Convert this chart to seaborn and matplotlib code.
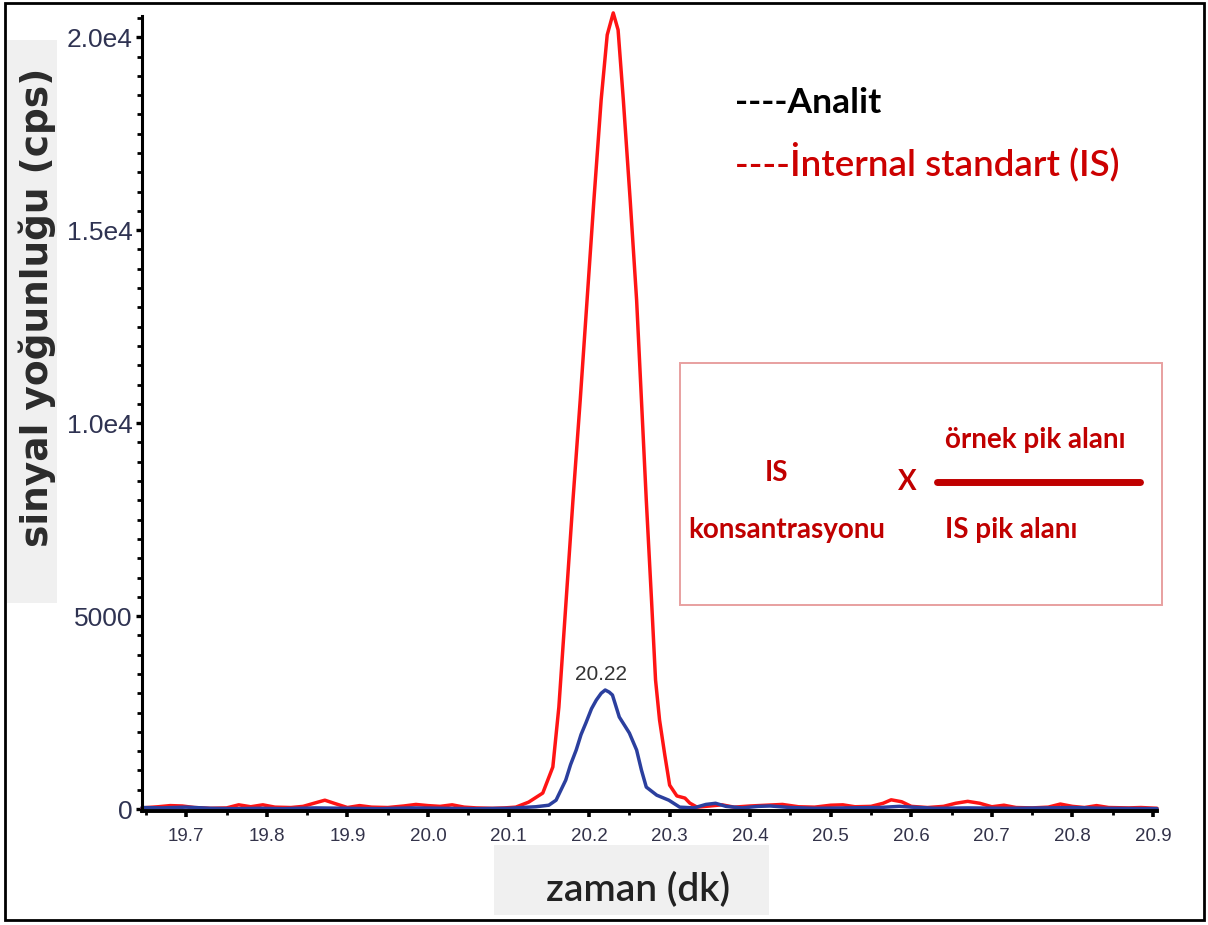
import matplotlib
matplotlib.use("Agg")
import matplotlib.pyplot as plt
from matplotlib import font_manager
from matplotlib.patches import Rectangle
from matplotlib.ticker import MultipleLocator, FixedLocator
import seaborn as sns
import pandas as pd

# Internal standard (IS) trace, retention time (min) vs. signal (cps)
is_time = [19.645, 19.665, 19.68, 19.695, 19.71, 19.73, 19.75, 19.765, 19.78, 19.795,
           19.81, 19.83, 19.845, 19.86, 19.872, 19.885, 19.90, 19.915, 19.93, 19.95,
           19.97, 19.985, 20.0, 20.015, 20.03, 20.045, 20.06, 20.08, 20.095, 20.109,
           20.125, 20.1425, 20.155, 20.1625, 20.169, 20.18, 20.189, 20.1975, 20.206, 20.215,
           20.2225, 20.23, 20.236, 20.2425, 20.251, 20.259, 20.265, 20.271, 20.2775, 20.2825,
           20.2875, 20.294, 20.30, 20.309, 20.319, 20.325, 20.334, 20.35, 20.365, 20.38,
           20.40, 20.42, 20.44, 20.46, 20.48, 20.50, 20.515, 20.53, 20.55, 20.565,
           20.575, 20.588, 20.60, 20.62, 20.64, 20.655, 20.67, 20.685, 20.70, 20.715,
           20.73, 20.75, 20.77, 20.785, 20.80, 20.815, 20.83, 20.845, 20.87, 20.885, 20.905]
is_signal = [30, 60, 90, 80, 40, 20, 30, 110, 60, 110,
             50, 40, 70, 160, 230, 140, 40, 90, 50, 40,
             80, 120, 90, 70, 110, 50, 30, 20, 30, 50,
             180, 415, 1090, 2645, 4640, 8010, 10600, 13190, 15785, 18380,
             20060, 20630, 20190, 18380, 15785, 13190, 10600, 8010, 5420, 3345,
             2305, 1400, 620, 340, 285, 155, 50, 80, 110, 50,
             80, 100, 120, 60, 50, 100, 110, 60, 70, 150,
             240, 190, 70, 40, 70, 150, 200, 150, 60, 100,
             40, 30, 50, 130, 70, 40, 90, 40, 30, 40, 20]

# Analyte trace
an_time = [19.645, 19.67, 19.70, 19.73, 19.76, 19.79, 19.82, 19.86, 19.90, 19.94,
           19.98, 20.02, 20.06, 20.10, 20.134, 20.15, 20.159, 20.171, 20.177, 20.184,
           20.19, 20.196, 20.203, 20.209, 20.215, 20.22, 20.225, 20.229, 20.2375, 20.244,
           20.25, 20.259, 20.265, 20.271, 20.284, 20.299, 20.3125, 20.33, 20.345, 20.357,
           20.37, 20.39, 20.41, 20.425, 20.45, 20.48, 20.52, 20.56, 20.585, 20.60,
           20.63, 20.67, 20.72, 20.77, 20.80, 20.84, 20.905]
an_signal = [40, 30, 50, 20, 10, 20, 10, 30, 20, 10,
             30, 20, 10, 20, 60, 100, 230, 750, 1150, 1530,
             1930, 2230, 2600, 2825, 3000, 3085, 3030, 2955, 2385, 2170,
             1970, 1530, 1010, 570, 360, 230, 50, 30, 120, 150,
             70, 30, 70, 80, 40, 20, 30, 40, 70, 50,
             20, 30, 20, 30, 40, 20, 10]

peak_time = 20.22
peak_signal = 3085

x_ticks = [19.7, 19.8, 19.9, 20.0, 20.1, 20.2, 20.3, 20.4, 20.5, 20.6, 20.7, 20.8, 20.9]
x_tick_labels = ["19.7", "19.8", "19.9", "20.0", "20.1", "20.2", "20.3",
                 "20.4", "20.5", "20.6", "20.7", "20.8", "20.9"]
y_ticks = [0, 5000, 10000, 15000, 20000]
y_tick_labels = ["0", "5000", "1.0e4", "1.5e4", "2.0e4"]

series_names = ["İnternal standart (IS)", "Analit"]
series_colors = {"İnternal standart (IS)": "#ff1414", "Analit": "#2b3f9e"}

df = pd.concat([
    pd.DataFrame({"zaman": is_time, "sinyal": is_signal, "seri": series_names[0]}),
    pd.DataFrame({"zaman": an_time, "sinyal": an_signal, "seri": series_names[1]}),
], ignore_index=True)


def pick_font(candidates):
    for name in candidates:
        try:
            font_manager.findfont(font_manager.FontProperties(family=name),
                                  fallback_to_default=False)
            return name
        except Exception:
            continue
    return "DejaVu Sans"


label_font = pick_font(["Lato", "Open Sans", "DejaVu Sans"])
arial = pick_font(["Liberation Sans", "DejaVu Sans"])

sns.set_style("ticks")
plt.rcParams["font.family"] = [arial, "DejaVu Sans"]

W, H = 1208, 925
fig = plt.figure(figsize=(W / 100, H / 100), dpi=100)
fig.patch.set_facecolor("white")

# axes box in pixels: left 142, right 1157, top 16, bottom 811
ax = fig.add_axes([142 / W, (H - 811) / H, (1157 - 142) / W, (811 - 16) / H])
ax.set_zorder(2)

sns.lineplot(data=df, x="zaman", y="sinyal", hue="seri", palette=series_colors,
             hue_order=series_names, estimator=None, sort=False, legend=False,
             linewidth=2.5, ax=ax)
for ln in ax.lines:
    ln.set_clip_on(False)
    ln.set_solid_joinstyle("round")

ax.set_xlim(19.645, 20.905)
ax.set_ylim(-50, 20550)

ax.xaxis.set_major_locator(FixedLocator(x_ticks))
ax.set_xticklabels(x_tick_labels)
ax.xaxis.set_minor_locator(MultipleLocator(0.05))
ax.yaxis.set_major_locator(FixedLocator(y_ticks))
ax.set_yticklabels(y_tick_labels)
ax.yaxis.set_minor_locator(MultipleLocator(500))

for side in ["top", "right"]:
    ax.spines[side].set_visible(False)
ax.spines["left"].set_linewidth(2.2)
ax.spines["bottom"].set_linewidth(2.8)
ax.spines["left"].set_color("black")
ax.spines["bottom"].set_color("black")

ax.tick_params(axis="x", which="major", direction="out", length=4, width=2.6,
               pad=8, labelsize=13.5, labelcolor="#33334a", color="black")
ax.tick_params(axis="x", which="minor", direction="out", length=3, width=2,
               color="black")
ax.tick_params(axis="y", which="major", direction="out", length=4, width=2.4,
               pad=3, labelsize=19, labelcolor="#2f3352", color="black")
ax.tick_params(axis="y", which="minor", direction="out", length=3.5, width=2,
               color="black")
ax.grid(False)

# light panels behind the axis titles
fig.patches.append(Rectangle((7 / W, (H - 603) / H), 50 / W, 563 / H,
                             transform=fig.transFigure, facecolor="#f0f0f0",
                             edgecolor="none", zorder=-1))
fig.patches.append(Rectangle((494 / W, (H - 915) / H), 275 / W, 70 / H,
                             transform=fig.transFigure, facecolor="#f0f0f0",
                             edgecolor="none", zorder=-1))
# outer frame
fig.patches.append(Rectangle((5 / W, (H - 920) / H), 1199 / W, 917 / H,
                             transform=fig.transFigure, facecolor="none",
                             edgecolor="black", linewidth=2, zorder=5))

ax.set_ylabel("sinyal yoğunluğu (cps)", fontsize=27, fontweight="bold",
              family=["DejaVu Sans"], color="#2b2b2b")
ax.yaxis.set_label_coords(-0.1034, 0.634)
ax.yaxis.label.set_va("center")
ax.yaxis.label.set_ha("center")

ax.set_xlabel("zaman (dk)", fontsize=28, fontweight="semibold",
              family=[label_font, "DejaVu Sans"], color="#222222")
ax.xaxis.set_label_coords(0.4887, -0.0994)
ax.xaxis.label.set_va("center")

ax.annotate(f"{peak_time:.2f}", xy=(peak_time, peak_signal), xytext=(-3, 11),
            textcoords="offset points", ha="center", va="center",
            fontsize=15, color="#333333")

# legend-style text block
ax.text(0.5842, 0.8906, "----Analit", transform=ax.transAxes, ha="left", va="center",
        fontsize=25.5, fontweight="bold", family=[label_font, "DejaVu Sans"],
        color="black")
ax.text(0.5842, 0.8164, "----İnternal standart (IS)", transform=ax.transAxes,
        ha="left", va="center", fontsize=26.5, fontweight="semibold",
        family=[label_font, "DejaVu Sans"], color="#cc0000")

# formula box
formula_red = "#c00000"
ax.add_patch(Rectangle((0.530, 0.2591), 1.005 - 0.530, 0.5635 - 0.2591,
                       transform=ax.transAxes, facecolor="white",
                       edgecolor="#e8a0a0", linewidth=1.4, clip_on=False, zorder=3))
txt_kw = dict(transform=ax.transAxes, va="center", fontweight="bold",
              family=[label_font, "DejaVu Sans"], color=formula_red, zorder=4)
ax.text(0.6256, 0.4252, "IS", ha="center", fontsize=20, **txt_kw)
ax.text(0.6355, 0.3535, "konsantrasyonu", ha="center", fontsize=20, **txt_kw)
ax.text(0.7537, 0.4138, "X", ha="center", fontsize=20, **txt_kw)
ax.text(0.7911, 0.4667, "örnek pik alanı", ha="left", fontsize=20, **txt_kw)
ax.text(0.7911, 0.3535, "IS pik alanı", ha="left", fontsize=20, **txt_kw)
ax.plot([0.7833, 0.9833], [0.4138, 0.4138], transform=ax.transAxes,
        color=formula_red, linewidth=5, solid_capstyle="round", clip_on=False,
        zorder=4)

fig.savefig("out.png", dpi=100)
